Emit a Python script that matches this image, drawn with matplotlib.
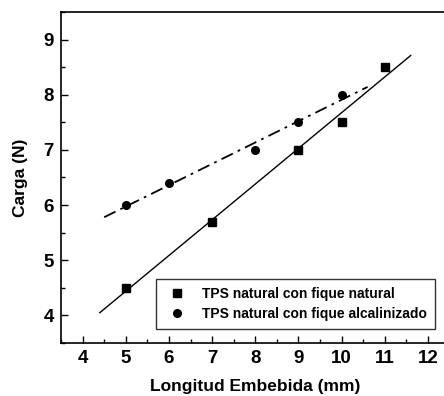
import numpy as np
import matplotlib.pyplot as plt
from matplotlib.ticker import MultipleLocator

plt.rcParams['font.family'] = ['Liberation Sans', 'DejaVu Sans']
plt.rcParams['font.weight'] = 'bold'

# TPS natural con fique natural
x_nat = [5, 7, 9, 10, 11]
y_nat = [4.5, 5.7, 7.0, 7.5, 8.5]
# TPS natural con fique alcalinizado
x_alc = [5, 6, 8, 9, 10]
y_alc = [6.0, 6.4, 7.0, 7.5, 8.0]

# ranges of the fitted lines
fit_nat_range = [4.4, 11.6]
fit_alc_range = [4.5, 10.6]

fig = plt.figure(figsize=(4.44, 3.96), dpi=100)
ax = fig.add_axes([61 / 444, 1 - 343 / 396, (449.6 - 61) / 444, (343 - 12) / 396])

ax.plot(x_nat, y_nat, 's', color='black', ms=5.5, label='TPS natural con fique natural')
ax.plot(x_alc, y_alc, 'o', color='black', ms=5.5, label='TPS natural con fique alcalinizado')

# linear fits
p = np.polyfit(x_nat, y_nat, 1)
xx = np.array(fit_nat_range)
ax.plot(xx, np.polyval(p, xx), '-', color='black', lw=1.0)
p = np.polyfit(x_alc, y_alc, 1)
xx = np.array(fit_alc_range)
ax.plot(xx, np.polyval(p, xx), color='black', lw=1.3, dashes=(7, 3, 1.5, 3))

ax.set_xlim(3.5, 12.5)
ax.set_ylim(3.5, 9.5)
ax.xaxis.set_major_locator(MultipleLocator(1))
ax.xaxis.set_minor_locator(MultipleLocator(0.5))
ax.yaxis.set_major_locator(MultipleLocator(1))
ax.yaxis.set_minor_locator(MultipleLocator(0.5))
ax.tick_params(which='both', direction='in', labelsize=13.5, width=1.0)
ax.tick_params(which='major', length=5, pad=5)
ax.tick_params(which='minor', length=3)
for s in ax.spines.values():
    s.set_linewidth(1.2)

ax.set_xlabel('Longitud Embebida (mm)', fontsize=12.5, fontweight='bold', labelpad=9)
ax.set_ylabel('Carga (N)', fontsize=12.5, fontweight='bold', labelpad=11)

leg = ax.legend(loc='lower right', bbox_to_anchor=(0.962, 0.042), fontsize=10,
                frameon=True, fancybox=False, edgecolor='black', handletextpad=0.9,
                borderpad=0.6, labelspacing=0.4, handlelength=1.8, borderaxespad=0)
leg.get_frame().set_linewidth(1.0)

fig.savefig('out.png', dpi=100)
